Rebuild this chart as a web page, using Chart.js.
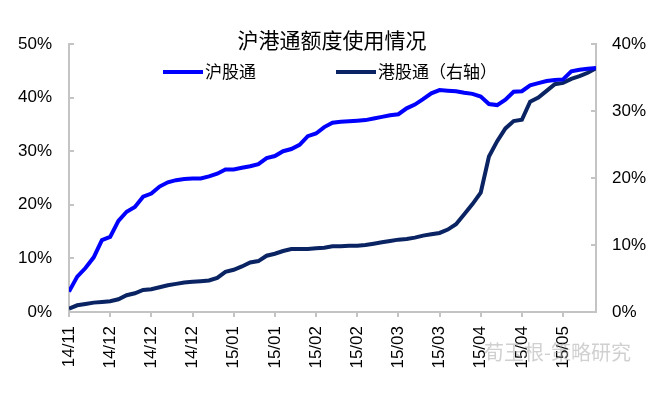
<!DOCTYPE html>
<html>
<head>
<meta charset="utf-8">
<script src="https://cdn.jsdelivr.net/npm/chart.js@4"></script>
<style>
  html, body { margin: 0; padding: 0; background: #fff; }
  #wrap { width: 660px; height: 400px; }
</style>
</head>
<body>
<div id="wrap"><canvas id="quotaChart" width="660" height="400"></canvas></div>
<script>

// x ticks every 10 trading days, data sampled every 2 trading days
const tickLabels = ["14/11", "14/12", "14/12", "14/12", "15/01", "15/01", "15/02",
    "15/02", "15/03", "15/03", "15/04", "15/04", "15/05"];

const dayStep = 2;

// 沪股通 usage, % (left axis)
const shData = [
    3.8, 6.6, 8.2, 10.2, 13.4, 14.0, 17.0, 18.7, 19.6, 21.5,
    22.1, 23.4, 24.2, 24.6, 24.8, 24.9, 24.9, 25.3, 25.8, 26.6,
    26.6, 26.9, 27.2, 27.6, 28.7, 29.1, 30.0, 30.4, 31.2, 32.8,
    33.3, 34.5, 35.3, 35.5, 35.6, 35.7, 35.8, 36.1, 36.4, 36.7,
    36.9, 38.0, 38.7, 39.7, 40.8, 41.4, 41.3, 41.2, 40.9, 40.7,
    40.2, 38.8, 38.6, 39.6, 41.1, 41.2, 42.3, 42.7, 43.1, 43.3,
    43.4, 44.9, 45.2, 45.4, 45.5
];

// 港股通 usage, % (right axis)
const hkData = [
    0.5, 1.0, 1.2, 1.4, 1.5, 1.6, 1.9, 2.5, 2.8, 3.3,
    3.4, 3.7, 4.0, 4.2, 4.4, 4.5, 4.6, 4.7, 5.1, 6.0,
    6.3, 6.8, 7.4, 7.6, 8.4, 8.7, 9.1, 9.4, 9.4, 9.4,
    9.5, 9.6, 9.8, 9.8, 9.9, 9.9, 10.0, 10.2, 10.4, 10.6,
    10.8, 10.9, 11.1, 11.4, 11.6, 11.8, 12.3, 13.1, 14.6, 16.1,
    17.8, 23.2, 25.5, 27.4, 28.5, 28.7, 31.4, 32.0, 33.0, 34.0,
    34.2, 34.8, 35.2, 35.7, 36.4
];

const toPoints = arr => arr.map((v, i) => ({ x: i * dayStep, y: v }));
const lastDay = (shData.length - 1) * dayStep;


// =================== legend + watermark ===================

const legendAndMark = {

    id: "legendAndMark",

    afterDraw(chart) {

        const { ctx, chartArea } = chart;
        const y = chartArea.top + 28;
        const offsets = [94, 267];

        ctx.save();

        chart.data.datasets.forEach((ds, i) => {

            const x = chartArea.left + offsets[i];

            ctx.strokeStyle = ds.borderColor;
            ctx.lineWidth = 4;
            ctx.beginPath();
            ctx.moveTo(x, y);
            ctx.lineTo(x + 40, y);
            ctx.stroke();

            ctx.fillStyle = "#000";
            ctx.font = '17px "Noto Sans CJK SC"';
            ctx.textBaseline = "middle";
            ctx.fillText(ds.label, x + 42, y);

        });

        ctx.fillStyle = "rgba(150,150,150,0.45)";
        ctx.font = '20px "Noto Sans CJK SC"';
        ctx.textBaseline = "middle";
        ctx.fillText("荀玉根-策略研究", 484, 352);

        ctx.restore();

    }

};


const axisGray = "#c4c4c4";
const tickFont = { family: '"Liberation Sans", Arial', size: 17 };

new Chart(document.getElementById("quotaChart"), {

    type: "line",

    data: {
        datasets: [{
            label: "沪股通",
            data: toPoints(shData),
            borderColor: "#0000ff",
            backgroundColor: "#0000ff",
            borderWidth: 4,
            pointRadius: 0,
            tension: 0,
            yAxisID: "y"
        }, {
            label: "港股通（右轴）",
            data: toPoints(hkData),
            borderColor: "#0a2463",
            backgroundColor: "#0a2463",
            borderWidth: 4,
            pointRadius: 0,
            tension: 0,
            yAxisID: "y1"
        }]
    },

    options: {
        responsive: false,
        animation: false,
        layout: { padding: { left: 16, right: 12, top: 0, bottom: 31 } },
        plugins: {
            legend: { display: false },
            tooltip: { enabled: false },
            title: {
                display: true,
                text: "沪港通额度使用情况",
                color: "#000",
                font: { family: '"Noto Sans CJK SC"', size: 21, weight: "normal" },
                padding: { top: 27.4, bottom: -8.6 }
            }
        },
        scales: {
            x: {
                type: "linear",
                min: 0,
                max: lastDay,
                border: { display: true, color: axisGray, width: 2 },
                grid: { display: true, drawOnChartArea: false, tickLength: 5, color: axisGray, lineWidth: 2 },
                ticks: {
                    stepSize: 10,
                    includeBounds: false,
                    autoSkip: false,
                    minRotation: 90,
                    maxRotation: 90,
                    padding: 9,
                    color: "#000",
                    font: tickFont,
                    callback: v => tickLabels[Math.round(v / 10)]
                },
                afterFit(scale) { scale.height = 57; }
            },
            y: {
                position: "left",
                min: 0,
                max: 50,
                border: { display: true, color: axisGray, width: 2 },
                grid: { display: true, drawOnChartArea: false, tickLength: -5, color: axisGray, lineWidth: 2 },
                ticks: { stepSize: 10, padding: 22, color: "#000", font: tickFont, callback: v => v + "%" },
                afterFit(scale) { scale.width = 53; }
            },
            y1: {
                position: "right",
                min: 0,
                max: 40,
                border: { display: true, color: axisGray, width: 2 },
                grid: { display: true, drawOnChartArea: false, tickLength: -5, color: axisGray, lineWidth: 2 },
                ticks: { stepSize: 10, padding: 21, color: "#000", font: tickFont, callback: v => v + "%" },
                afterFit(scale) { scale.width = 52; }
            }
        }
    },

    plugins: [legendAndMark]

});

</script>
</body>
</html>
